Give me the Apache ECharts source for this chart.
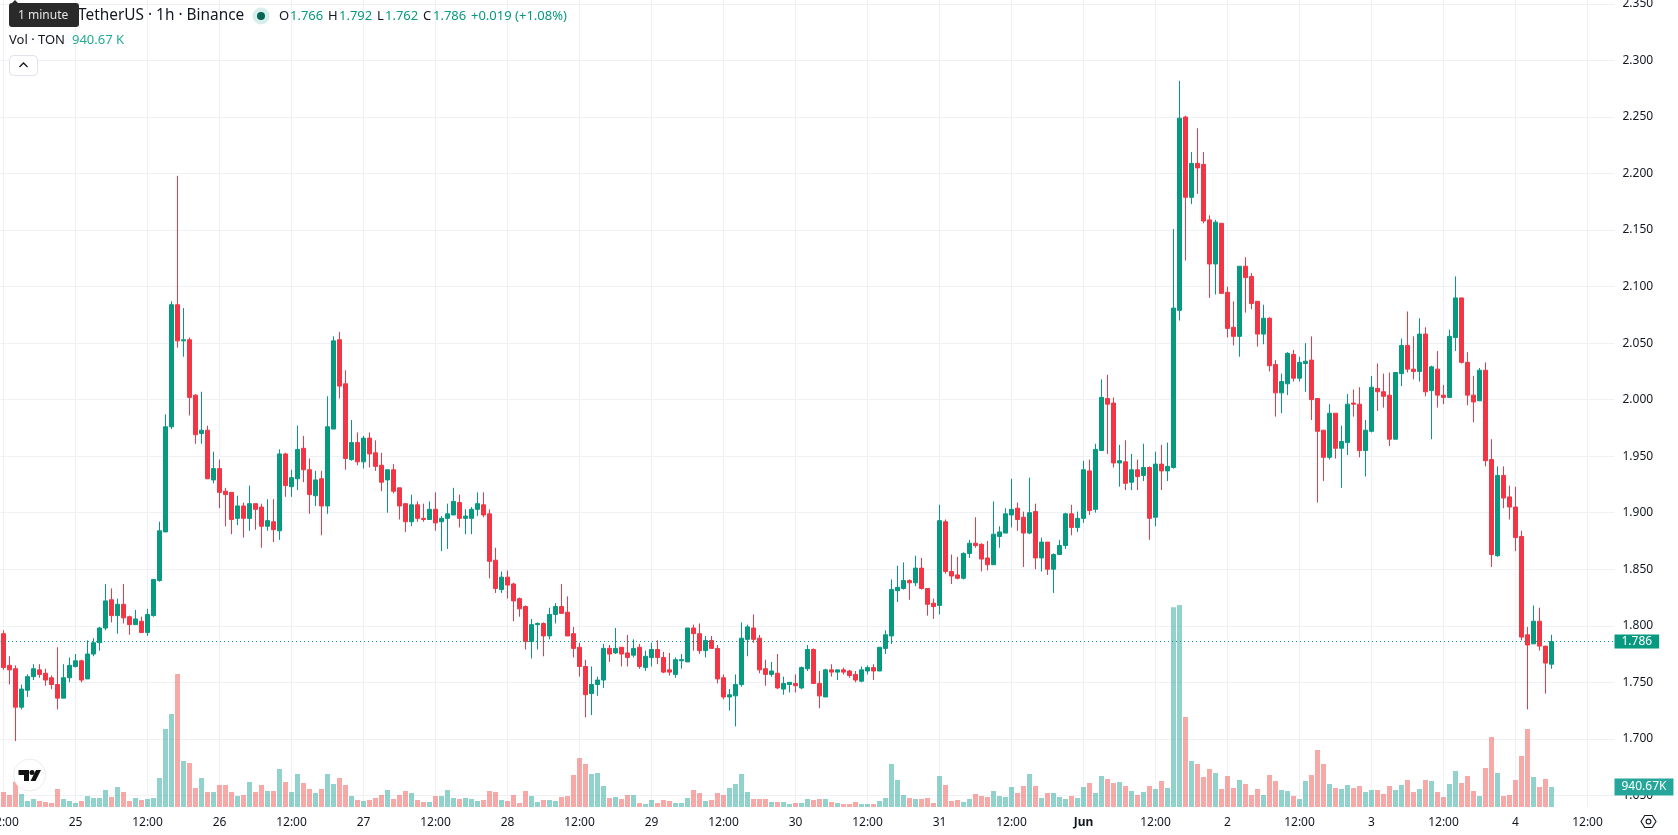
<!DOCTYPE html>
<html>
<head>
<meta charset="utf-8">
<style>html,body{margin:0;padding:0;background:#fff}#chart{width:1678px;height:835px}</style>
<script src="https://cdn.jsdelivr.net/npm/echarts@6/dist/echarts.min.js"></script>
</head>
<body>
<div id="chart"></div>
<script>
// TON/USDT hourly candles, 24 May 12:00 to 4 Jun 06:00
const opens = [
1.793,1.765,1.762,1.728,1.743,1.755,1.761,1.758,1.754,1.748,
1.736,1.754,1.764,1.769,1.753,1.775,1.785,1.798,1.823,1.809,
1.819,1.808,1.801,1.804,1.794,1.809,1.840,1.883,1.976,2.084,
2.052,2.053,2.004,1.970,1.973,1.929,1.939,1.919,1.918,1.895,
1.906,1.895,1.908,1.905,1.888,1.892,1.884,1.952,1.923,1.930,
1.957,1.938,1.915,1.930,1.906,1.974,2.053,2.014,1.947,1.962,
1.945,1.966,1.953,1.942,1.929,1.938,1.922,1.908,1.892,1.907,
1.895,1.894,1.903,1.892,1.895,1.898,1.909,1.895,1.895,1.903,
1.907,1.899,1.858,1.832,1.843,1.837,1.824,1.817,1.786,1.801,
1.802,1.791,1.810,1.817,1.812,1.793,1.781,1.764,1.740,1.748,
1.752,1.780,1.776,1.781,1.776,1.774,1.781,1.763,1.772,1.779,
1.772,1.761,1.757,1.769,1.768,1.798,1.793,1.778,1.787,1.780,
1.754,1.737,1.738,1.748,1.788,1.798,1.789,1.762,1.757,1.758,
1.744,1.748,1.749,1.745,1.762,1.779,1.749,1.737,1.761,1.759,
1.761,1.760,1.757,1.751,1.760,1.763,1.760,1.780,1.791,1.831,
1.833,1.840,1.838,1.851,1.833,1.820,1.818,1.892,1.848,1.845,
1.842,1.864,1.873,1.872,1.860,1.854,1.879,1.882,1.898,1.904,
1.896,1.882,1.901,1.860,1.874,1.850,1.863,1.871,1.899,1.887,
1.895,1.937,1.903,1.955,2.001,1.997,1.944,1.945,1.927,1.938,
1.933,1.940,1.896,1.943,1.937,1.940,2.079,2.250,2.179,2.209,
2.208,2.159,2.120,2.156,2.095,2.064,2.056,2.118,2.109,2.087,
2.058,2.072,2.031,2.006,2.014,2.040,2.019,2.032,2.035,2.001,
1.973,1.949,1.988,1.957,1.962,1.997,1.996,1.955,1.972,2.010,
2.007,2.004,1.965,2.023,2.048,2.027,2.025,2.058,2.008,2.027,
2.004,2.002,2.055,2.090,2.033,2.004,1.999,2.026,1.947,1.862,
1.933,1.914,1.905,1.879,1.792,1.784,1.804,1.782,1.766];

const closes = [
1.763,1.761,1.728,1.744,1.755,1.762,1.757,1.752,1.748,1.736,
1.754,1.765,1.769,1.752,1.775,1.785,1.798,1.822,1.809,1.819,
1.807,1.801,1.806,1.794,1.810,1.841,1.884,1.976,2.084,2.052,
2.053,2.002,1.969,1.973,1.930,1.939,1.918,1.916,1.894,1.906,
1.895,1.908,1.903,1.888,1.893,1.885,1.952,1.924,1.931,1.956,
1.938,1.916,1.929,1.906,1.976,2.052,2.012,1.948,1.962,1.945,
1.966,1.952,1.941,1.927,1.938,1.919,1.906,1.892,1.907,1.895,
1.894,1.903,1.891,1.895,1.899,1.910,1.895,1.897,1.903,1.908,
1.898,1.857,1.833,1.843,1.836,1.822,1.815,1.786,1.801,1.802,
1.791,1.810,1.817,1.811,1.791,1.780,1.764,1.739,1.748,1.752,
1.780,1.775,1.780,1.775,1.772,1.780,1.764,1.773,1.779,1.772,
1.759,1.759,1.770,1.770,1.798,1.793,1.778,1.787,1.780,1.753,
1.737,1.739,1.748,1.789,1.799,1.788,1.761,1.757,1.760,1.745,
1.749,1.750,1.747,1.763,1.779,1.749,1.738,1.761,1.759,1.761,
1.759,1.756,1.752,1.761,1.763,1.760,1.781,1.792,1.832,1.834,
1.840,1.838,1.851,1.833,1.819,1.817,1.893,1.848,1.844,1.842,
1.864,1.873,1.871,1.859,1.854,1.881,1.883,1.899,1.903,1.894,
1.882,1.900,1.860,1.874,1.850,1.863,1.871,1.899,1.887,1.895,
1.938,1.902,1.956,2.002,1.996,1.944,1.946,1.926,1.938,1.932,
1.940,1.895,1.943,1.937,1.941,2.081,2.249,2.179,2.209,2.205,
2.158,2.120,2.157,2.094,2.063,2.056,2.118,2.108,2.085,2.058,
2.072,2.030,2.006,2.016,2.041,2.019,2.033,2.034,2.000,1.972,
1.949,1.988,1.957,1.963,1.996,1.996,1.955,1.973,2.011,2.007,
2.003,1.965,2.024,2.048,2.027,2.025,2.058,2.007,2.029,2.004,
2.002,2.056,2.090,2.033,2.004,1.998,2.026,1.946,1.863,1.933,
1.913,1.905,1.878,1.790,1.783,1.804,1.782,1.767,1.786];

const lows = [
1.761,1.748,1.698,1.726,1.737,1.752,1.754,1.747,1.744,1.726,
1.736,1.750,1.763,1.750,1.753,1.773,1.778,1.796,1.803,1.793,
1.802,1.792,1.801,1.794,1.791,1.808,1.839,1.883,1.974,2.046,
2.038,1.986,1.961,1.961,1.930,1.926,1.904,1.888,1.881,1.889,
1.878,1.884,1.885,1.869,1.884,1.874,1.876,1.914,1.914,1.920,
1.927,1.899,1.906,1.880,1.899,1.974,2.001,1.938,1.946,1.942,
1.939,1.940,1.937,1.919,1.900,1.917,1.894,1.883,1.888,1.892,
1.892,1.894,1.884,1.866,1.868,1.898,1.887,1.881,1.881,1.897,
1.896,1.842,1.829,1.829,1.824,1.804,1.808,1.779,1.771,1.779,
1.773,1.788,1.802,1.811,1.791,1.772,1.755,1.719,1.721,1.738,
1.745,1.768,1.775,1.764,1.764,1.772,1.762,1.760,1.764,1.766,
1.758,1.756,1.754,1.762,1.768,1.778,1.775,1.772,1.780,1.749,
1.735,1.725,1.711,1.746,1.773,1.785,1.758,1.747,1.755,1.744,
1.739,1.741,1.741,1.744,1.760,1.749,1.727,1.737,1.755,1.752,
1.757,1.754,1.750,1.750,1.757,1.752,1.760,1.775,1.784,1.821,
1.832,1.823,1.835,1.832,1.809,1.806,1.810,1.846,1.837,1.841,
1.841,1.860,1.869,1.848,1.849,1.854,1.869,1.882,1.887,1.884,
1.852,1.881,1.850,1.848,1.845,1.829,1.863,1.868,1.880,1.883,
1.891,1.898,1.900,1.955,1.952,1.940,1.923,1.920,1.920,1.920,
1.928,1.876,1.888,1.920,1.928,1.939,2.070,2.123,2.173,2.182,
2.156,2.090,2.093,2.094,2.055,2.048,2.038,2.077,2.080,2.047,
2.049,2.025,1.985,1.988,2.004,2.016,2.016,2.007,1.982,1.909,
1.928,1.947,1.948,1.922,1.951,1.985,1.949,1.932,1.971,1.990,
1.993,1.959,1.965,2.012,2.024,2.018,2.016,2.003,1.965,1.993,
1.996,2.002,2.043,2.032,1.995,1.980,1.999,1.941,1.852,1.861,
1.904,1.894,1.866,1.787,1.726,1.784,1.778,1.740,1.762];

const highs = [
1.796,1.773,1.765,1.748,1.757,1.766,1.766,1.762,1.756,1.781,
1.766,1.772,1.775,1.770,1.787,1.789,1.799,1.837,1.833,1.824,
1.837,1.809,1.814,1.808,1.815,1.841,1.892,1.987,2.087,2.198,
2.081,2.055,2.005,2.007,1.977,1.954,1.947,1.922,1.918,1.915,
1.909,1.924,1.908,1.908,1.912,1.912,1.956,1.953,1.938,1.977,
1.968,1.948,1.937,1.937,2.003,2.056,2.060,2.026,1.982,1.971,
1.968,1.971,1.964,1.953,1.938,1.943,1.922,1.908,1.916,1.910,
1.908,1.910,1.918,1.897,1.908,1.922,1.916,1.903,1.905,1.918,
1.918,1.903,1.869,1.848,1.849,1.838,1.825,1.818,1.806,1.803,
1.803,1.816,1.820,1.837,1.826,1.799,1.785,1.770,1.764,1.755,
1.784,1.783,1.798,1.781,1.792,1.788,1.784,1.778,1.785,1.787,
1.777,1.776,1.772,1.775,1.798,1.801,1.802,1.791,1.791,1.783,
1.757,1.744,1.757,1.803,1.801,1.810,1.792,1.770,1.768,1.775,
1.755,1.750,1.757,1.764,1.783,1.780,1.760,1.762,1.766,1.761,
1.763,1.761,1.760,1.764,1.765,1.766,1.781,1.796,1.841,1.853,
1.856,1.841,1.862,1.860,1.833,1.824,1.907,1.894,1.863,1.861,
1.865,1.876,1.896,1.873,1.875,1.910,1.888,1.904,1.930,1.909,
1.901,1.931,1.908,1.878,1.874,1.864,1.876,1.900,1.907,1.901,
1.946,1.947,1.961,2.018,2.022,2.002,1.960,1.964,1.952,1.947,
1.961,1.941,1.954,1.960,1.962,2.151,2.282,2.251,2.219,2.240,
2.219,2.163,2.159,2.156,2.100,2.087,2.118,2.126,2.112,2.087,
2.084,2.073,2.035,2.023,2.042,2.044,2.038,2.050,2.056,2.001,
1.973,1.996,1.988,1.977,2.005,2.009,2.011,1.982,2.021,2.032,
2.023,2.024,2.024,2.054,2.078,2.056,2.072,2.064,2.030,2.043,
2.013,2.062,2.109,2.090,2.042,2.021,2.028,2.033,1.965,1.941,
1.941,1.924,1.923,1.884,1.799,1.818,1.816,1.782,1.792];

// Traded volume per hour, thousands of TON
const volumes = [
706,564,1192,612,282,376,282,235,188,847,
376,282,188,282,517,423,423,800,470,941,
706,282,423,329,376,423,1364,3669,4375,6256,
2164,2070,894,1364,706,706,1035,1035,706,517,
564,1176,706,1035,753,753,1788,1176,706,1552,
1129,847,659,847,1552,1082,1364,1035,517,329,
282,329,423,564,800,376,564,753,659,329,
235,235,517,517,800,423,376,423,376,282,
329,753,706,329,282,564,188,753,517,235,
329,329,282,470,517,1505,2305,2023,1552,1599,
988,423,470,376,564,564,188,141,329,188,
329,282,188,188,423,800,659,282,329,659,
564,894,1082,1552,706,376,376,376,235,235,
235,141,188,188,376,329,376,376,235,188,
141,141,235,141,141,141,282,423,2023,1270,
564,423,376,376,423,188,1458,1035,282,329,
235,376,612,517,470,753,517,470,941,659,
988,1552,988,423,659,659,470,376,517,423,
941,1129,659,1458,1317,1129,1176,988,753,564,
706,988,847,1223,894,9400,9500,4234,2164,2023,
1411,1788,1599,847,1458,894,1270,1082,564,847,
564,1505,1223,800,753,517,376,1223,1505,2681,
2023,1082,894,847,1035,894,988,706,800,800,
612,988,800,1035,1270,706,847,1270,1223,706,
470,1082,1693,1129,1458,753,517,1835,3293,1599,
517,564,1270,2399,3669,1411,941,1317,940.67];

const priceTicks = [1.65,1.70,1.75,1.80,1.85,1.90,1.95,2.00,2.05,2.10,2.15,2.20,2.25,2.30,2.35];
const timeTicks = [0,12,24,36,48,60,72,84,96,108,120,132,144,156,168,180,192,204,216,228,240,252,264];
const timeLabels = ['12:00','25','12:00','26','12:00','27','12:00','28','12:00','29','12:00','30','12:00','31','12:00','Jun','12:00','2','12:00','3','12:00','4','12:00'];

const lastPrice = 1.786;
const lastVolume = 940.67;

const UP = '#089981', DOWN = '#f23645';
const UP_VOL = 'rgba(38,166,154,0.5)', DOWN_VOL = 'rgba(239,83,80,0.5)';
const INK = '#131722', GRID = '#f0f1f4';
const FONT = '"Noto Sans", sans-serif';

const candleData = opens.map((o, i) => [i, o, closes[i], lows[i], highs[i]]);
const volumeData = volumes.map((v, i) => ({
  value: [i, v],
  itemStyle: { color: closes[i] >= opens[i] ? UP_VOL : DOWN_VOL }
}));

function label(x, y, text, fill, size, weight) {
  return { type: 'text', silent: true, z: 100, x, y,
    style: { text, fill, font: (weight || 400) + ' ' + size + 'px ' + FONT, verticalAlign: 'middle' } };
}

const header = [
  label(78, 16, 'TetherUS · 1h · Binance', INK, 15.4),
  { type: 'circle', z: 100, shape: { cx: 261, cy: 16, r: 8.5 }, style: { fill: '#d8eeea' } },
  { type: 'circle', z: 101, shape: { cx: 261, cy: 16, r: 4 }, style: { fill: '#056656' } },
  label(279, 16.5, 'O', INK, 13), label(290, 16.5, '1.766', UP, 13),
  label(328, 16.5, 'H', INK, 13), label(339, 16.5, '1.792', UP, 13),
  label(377, 16.5, 'L', INK, 13), label(385, 16.5, '1.762', UP, 13),
  label(423, 16.5, 'C', INK, 13), label(433, 16.5, '1.786', UP, 13),
  label(471, 16.5, '+0.019 (+1.08%)', UP, 13),
  label(9, 40.5, 'Vol · TON', INK, 13),
  label(72, 40.5, '940.67 K', '#22ab94', 13),
  // collapse button
  { type: 'rect', z: 100, shape: { x: 9.5, y: 55.5, width: 28, height: 20, r: 4 }, style: { fill: '#fff', stroke: '#e0e3eb', lineWidth: 1 } },
  { type: 'polyline', z: 101, shape: { points: [[19.5, 67], [23.5, 63], [27.5, 67]] }, style: { fill: null, stroke: INK, lineWidth: 1.3 } },
  // hint bubble
  { type: 'polygon', z: 110, shape: { points: [[9, 3], [12, 3], [15, 0], [18, 3], [18, 3]] }, style: { fill: '#2a2a2a' } },
  { type: 'rect', z: 110, shape: { x: 9, y: 3, width: 70, height: 24, r: 3 }, style: { fill: '#2a2a2a' } },
  Object.assign(label(18, 15.5, '1 minute', '#e6e6e6', 12), { z: 111 }),
  // brand badge
  { type: 'circle', z: 100, shape: { cx: 29.6, cy: 775, r: 16 }, style: { fill: '#fff', stroke: '#ececec', lineWidth: 1 } },
  { type: 'polygon', z: 101, shape: { points: [[18.5, 770], [29, 770], [29, 781], [24, 781], [24, 775], [18.5, 775]] }, style: { fill: '#111' } },
  { type: 'circle', z: 101, shape: { cx: 32, cy: 772.5, r: 2.5 }, style: { fill: '#111' } },
  { type: 'polygon', z: 101, shape: { points: [[36, 770], [41, 770], [35.5, 781], [30.5, 781]] }, style: { fill: '#111' } },
  // settings cog
  { type: 'polygon', z: 100, shape: { points: [[1641, 821.5], [1644.8, 815.5], [1652.2, 815.5], [1656, 821.5], [1652.2, 827.5], [1644.8, 827.5]] }, style: { fill: null, stroke: INK, lineWidth: 1.1 } },
  { type: 'circle', z: 100, shape: { cx: 1648.5, cy: 821.5, r: 2.4 }, style: { fill: null, stroke: INK, lineWidth: 1.1 } }
];

const chart = echarts.init(document.getElementById('chart'), null, { renderer: 'canvas' });
chart.setOption({
  animation: false,
  backgroundColor: '#ffffff',
  textStyle: { fontFamily: FONT },
  grid: { left: 0.5, top: 0, width: 1614, height: 807, containLabel: false, outerBoundsMode: 'none', show: false },
  xAxis: {
    type: 'value', min: -0.5, max: 268.5, scale: true, containShape: false,
    axisLine: { show: false },
    axisTick: { show: false, customValues: timeTicks },
    splitLine: { show: true, lineStyle: { color: GRID, width: 1 } },
    axisLabel: {
      customValues: timeTicks, margin: 10, color: INK, fontSize: 12, fontFamily: FONT,
      hideOverlap: false, showMinLabel: true, showMaxLabel: true,
      formatter: v => { const s = timeLabels[timeTicks.indexOf(v)]; return s === 'Jun' ? '{b|Jun}' : s; },
      rich: { b: { fontWeight: 700, fontSize: 12, color: INK, fontFamily: FONT } }
    }
  },
  yAxis: [
    {
      type: 'value', position: 'right', min: 1.6397, max: 2.3535, scale: true,
      axisLine: { show: false },
      axisTick: { show: false, customValues: priceTicks },
      splitLine: { show: true, lineStyle: { color: GRID, width: 1 } },
      axisLabel: {
        customValues: priceTicks, inside: false, margin: 8, color: INK, fontSize: 12, fontFamily: FONT,
        padding: [2, 0, 0, 0],
        showMinLabel: true, showMaxLabel: true, hideOverlap: false,
        formatter: v => v.toFixed(3)
      }
    },
    { type: 'value', min: 0, max: 37953, show: false, splitLine: { show: false } }
  ],
  series: [
    {
      type: 'bar', name: 'Volume', yAxisIndex: 1, barWidth: 5, z: 2, data: volumeData,
      markLine: {
        silent: true, symbol: 'none', animation: false, precision: 2,
        lineStyle: { color: 'rgba(0,0,0,0)', width: 1 },
        data: [{ yAxis: lastVolume }],
        label: {
          show: true, position: 'end', formatter: '940.67K', color: '#fff', fontSize: 12, fontFamily: FONT,
          backgroundColor: '#26a69a', padding: [3, 7, 2, 7], distance: 0
        }
      }
    },
    {
      type: 'candlestick', name: 'TON/USDT', barWidth: 4, z: 3, data: candleData,
      encode: { x: 0, y: [1, 2, 3, 4] },
      itemStyle: { color: UP, color0: DOWN, borderColor: UP, borderColor0: DOWN, borderWidth: 1 },
      markLine: {
        silent: true, symbol: 'none', animation: false, precision: 3,
        lineStyle: { color: UP, type: [1, 3], dashOffset: 0.5, width: 1 },
        data: [{ yAxis: lastPrice }],
        label: {
          position: 'end', formatter: '1.786', color: '#fff', fontSize: 12, fontFamily: FONT,
          backgroundColor: UP, padding: [1, 7, 1, 7], distance: 0
        }
      }
    }
  ],
  graphic: { elements: header }
});
</script>
</body>
</html>
